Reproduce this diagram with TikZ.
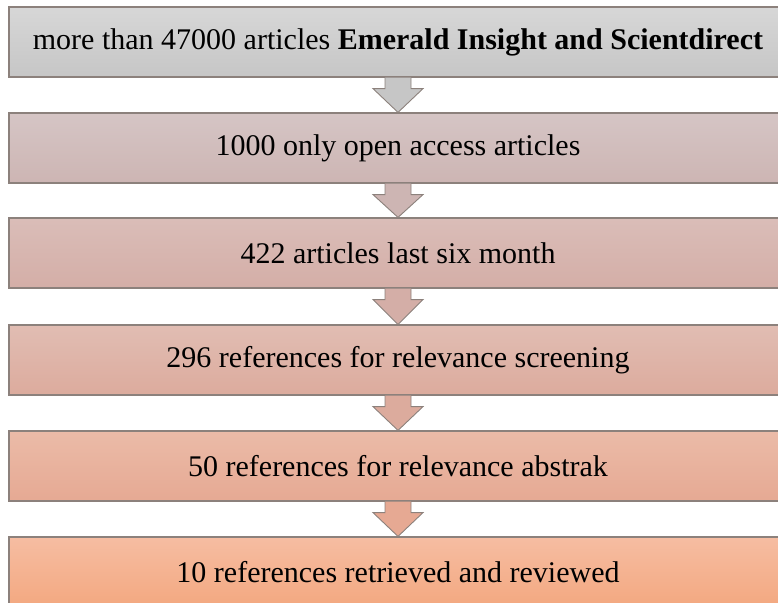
\documentclass[tikz,border=0pt]{standalone}
\usepackage{fontspec}
\setmainfont{Liberation Serif}
\usetikzlibrary{calc}

% box colours (top / bottom of each vertical gradient)
\definecolor{frameC}{HTML}{8C817C}
\definecolor{aTop}{HTML}{D7D7D7}\definecolor{aBot}{HTML}{C6C6C6}
\definecolor{bTop}{HTML}{D5C5C5}\definecolor{bBot}{HTML}{CDB5B3}
\definecolor{cTop}{HTML}{DABDB8}\definecolor{cBot}{HTML}{D4AEA7}
\definecolor{dTop}{HTML}{E1BDB3}\definecolor{dBot}{HTML}{DCAB9D}
\definecolor{eTop}{HTML}{EBBBA8}\definecolor{eBot}{HTML}{E6A993}
\definecolor{fTop}{HTML}{F6BDA2}\definecolor{fBot}{HTML}{F3A880}

\tikzset{
  stagebox/.style={draw=frameC, line width=1.2pt, minimum width=778pt,
    minimum height=70pt, inner sep=0pt, font=\fontsize{30}{34}\selectfont,
    shading=axis},
  blockarrow/.style={draw=frameC, line width=0.9pt, line join=miter}
}

% draws a down-pointing block arrow from the bottom of #1 to the top of #2
\newcommand{\downflow}[3]{%
  \path[blockarrow, fill=#3]
    ($(#1.south)+(-13,0)$) -- ($(#1.south)+(-13,11)$) -- ($(#1.south)+(-25,11)$)
    -- (#2.north) -- ($(#1.south)+(25,11)$) -- ($(#1.south)+(13,11)$)
    -- ($(#1.south)+(13,0)$);
}

\begin{document}
\begin{tikzpicture}[x=1pt, y=-1pt]
  \useasboundingbox (0,0) rectangle (778,602);
  \clip (0,0) rectangle (778,602);

  \node[stagebox, top color=aTop, bottom color=aBot] (s1) at (398,42)
    {more than 47000 articles \textbf{Emerald Insight and Scientdirect}};
  \node[stagebox, top color=bTop, bottom color=bBot] (s2) at (398,148)
    {1000 only open access articles};
  \node[stagebox, top color=cTop, bottom color=cBot] (s3) at (398,253)
    {422 articles last six month};
  \node[stagebox, top color=dTop, bottom color=dBot] (s4) at (398,360)
    {296 references for relevance screening};
  \node[stagebox, top color=eTop, bottom color=eBot] (s5) at (398,466)
    {50 references for relevance abstrak};
  \node[stagebox, top color=fTop, bottom color=fBot] (s6) at (398,572)
    {10 references retrieved and reviewed};

  \downflow{s1}{s2}{aBot}
  \downflow{s2}{s3}{bBot}
  \downflow{s3}{s4}{cBot}
  \downflow{s4}{s5}{dBot}
  \downflow{s5}{s6}{eBot}
\end{tikzpicture}
\end{document}
